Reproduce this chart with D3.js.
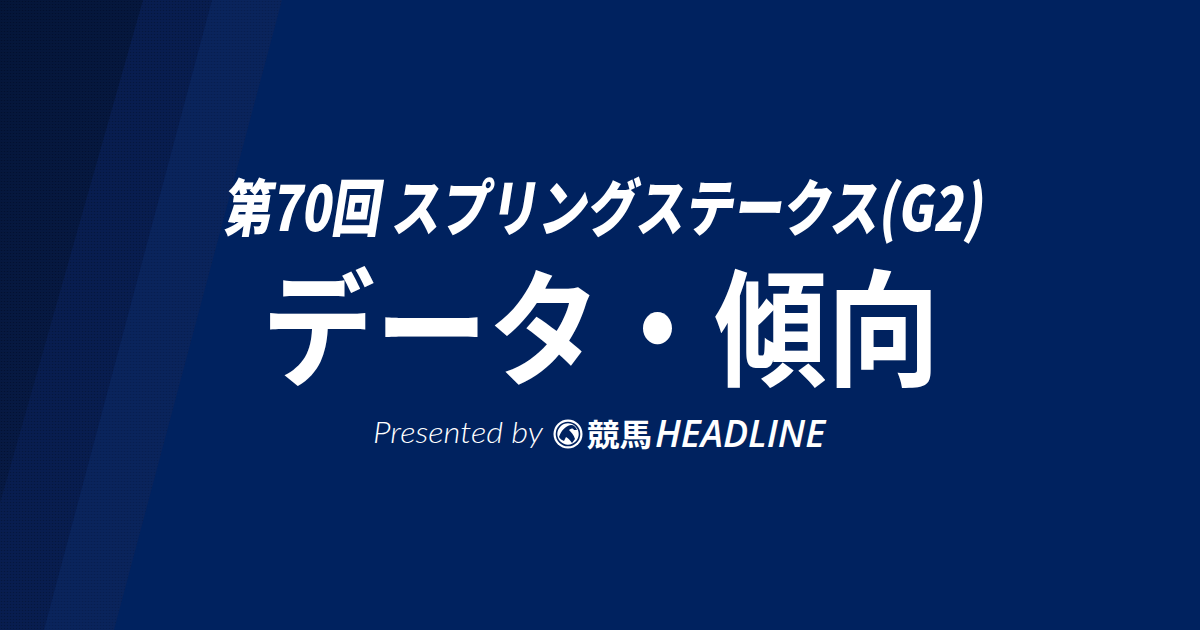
<!DOCTYPE html>
<html>
<head>
<meta charset="utf-8">
<script src="https://cdn.jsdelivr.net/npm/d3@7"></script>
<style>
  html, body { margin: 0; padding: 0; background: #00225f; }
  svg { display: block; }
</style>
</head>
<body>
<script>
const width = 1200
const height = 630

// texts
const titleLines = ["第70回 スプリングステークス(G2)", "データ・傾向"]
const presentedBy = "Presented by"
const logoKanji = "競馬"
const logoLatin = "HEADLINE"

// diagonal bands on the left: top edge / bottom edge (in px of the 1200 wide card)
const bandTop = [282, 212, 143]
const bandBottom = [114, 44, -36]
const bandColors = ["#0a245c", "#081d50", "#061741"]

const svg = d3.select("body").append("svg")
  .attr("width", width)
  .attr("height", height)
  .attr("xmlns", "http://www.w3.org/2000/svg")

const defs = svg.append("defs")

// halftone dots used on the bands
const pat = defs.append("pattern")
  .attr("id", "dots")
  .attr("width", 3)
  .attr("height", 3)
  .attr("patternUnits", "userSpaceOnUse")
pat.append("circle")
  .attr("cx", 1.5).attr("cy", 1.5).attr("r", 0.8)
  .attr("fill", "#000a24")
  .attr("opacity", 0.22)

const grad = defs.append("linearGradient")
  .attr("id", "darkband")
  .attr("x1", 0).attr("y1", 0).attr("x2", 0.4).attr("y2", 1)
grad.append("stop").attr("offset", 0).attr("stop-color", "#041538")
grad.append("stop").attr("offset", 1).attr("stop-color", "#081b48")

svg.append("rect")
  .attr("width", width)
  .attr("height", height)
  .attr("fill", "#00225f")

const x = d3.scaleLinear().domain([0, width]).range([0, width])
const y = d3.scaleLinear().domain([0, 1]).range([0, height])

const bands = bandTop.map((t, i) => ({ top: t, bottom: bandBottom[i], color: bandColors[i] }))

const area = d3.line()
const bandPath = d => area([[x(0), y(0)], [x(d.top), y(0)], [x(d.bottom), y(1)], [x(0), y(1)]]) + "Z"

const bandG = svg.append("g").attr("class", "bands")
bandG.selectAll("path.band")
  .data(bands)
  .enter().append("path")
  .attr("class", "band")
  .attr("d", bandPath)
  .attr("fill", (d, i) => i === bands.length - 1 ? "url(#darkband)" : d.color)
bandG.selectAll("path.dot")
  .data(bands)
  .enter().append("path")
  .attr("class", "dot")
  .attr("d", bandPath)
  .attr("fill", "url(#dots)")

// title
const jp = "'Noto Sans CJK JP', 'Noto Sans CJK SC', sans-serif"

svg.append("g")
  .attr("transform", "translate(222,231) skewX(-9)")
  .append("text")
  .attr("x", 0).attr("y", 0)
  .attr("font-family", jp)
  .attr("font-weight", 900)
  .attr("font-size", 62)
  .attr("fill", "#fff")
  .attr("textLength", 760)
  .attr("lengthAdjust", "spacingAndGlyphs")
  .text(titleLines[0])

svg.append("text")
  .attr("x", 262).attr("y", 376)
  .attr("font-family", jp)
  .attr("font-weight", 700)
  .attr("font-size", 126)
  .attr("fill", "#fff")
  .attr("textLength", 678)
  .attr("lengthAdjust", "spacingAndGlyphs")
  .text(titleLines[1])

// presented by line
svg.append("text")
  .attr("x", 373).attr("y", 443)
  .attr("font-family", "Lato, 'Open Sans', sans-serif")
  .attr("font-weight", 300)
  .attr("font-style", "italic")
  .attr("font-size", 30)
  .attr("fill", "#fff")
  .attr("textLength", 170)
  .attr("lengthAdjust", "spacingAndGlyphs")
  .text(presentedBy)

// logo mark: circle with horse head
const logo = svg.append("g").attr("transform", "translate(568,434)")
logo.append("circle").attr("r", 14.5).attr("fill", "#fff")
logo.append("circle").attr("r", 11.5).attr("fill", "none").attr("stroke", "#00225f").attr("stroke-width", 1.6)
logo.append("path")
  .attr("d", "M-9,3 C-7,-3 -3,-8 3,-9 C6,-9 8,-7 9,-4 L6,-4 C5,-6 3,-6 1,-4 C3,-2 6,1 7,5 L4,9 C2,6 0,4 -2,3 L-4,7 C-6,6 -8,5 -9,3 Z")
  .attr("fill", "#00225f")

svg.append("text")
  .attr("x", 587).attr("y", 446)
  .attr("font-family", jp)
  .attr("font-weight", 700)
  .attr("font-size", 31)
  .attr("fill", "#fff")
  .attr("textLength", 65)
  .attr("lengthAdjust", "spacingAndGlyphs")
  .text(logoKanji)

svg.append("text")
  .attr("x", 655).attr("y", 447)
  .attr("font-family", "'Open Sans', Lato, sans-serif")
  .attr("font-weight", 600)
  .attr("font-style", "italic")
  .attr("font-size", 37)
  .attr("fill", "#fff")
  .attr("textLength", 170)
  .attr("lengthAdjust", "spacingAndGlyphs")
  .text(logoLatin)
</script>
</body>
</html>
